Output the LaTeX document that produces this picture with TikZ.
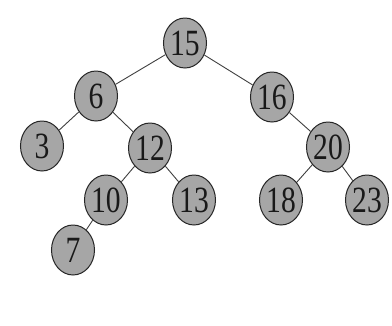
\documentclass[tikz,border=0pt]{standalone}
\usetikzlibrary{shapes.geometric}
\usepackage{fontspec}
\setmainfont{Liberation Serif}
\begin{document}
\begin{tikzpicture}[x=1pt,y=-1pt,
  key/.style={ellipse,draw=black!85,line width=1pt,fill=black!35,
    minimum width=43pt,minimum height=50pt,inner sep=0pt,
    font=\fontsize{37}{37}\selectfont,text=black!90},
  edge/.style={draw=black!75,line width=0.9pt}]
\useasboundingbox[fill=white] (0,0) rectangle (392,325);
\node[key] (n15) at (185,43) {\scalebox{0.8}[1]{15}};
\node[key] (n6) at (96,96) {\scalebox{0.8}[1]{6}};
\node[key] (n16) at (272,97) {\scalebox{0.8}[1]{16}};
\node[key] (n3) at (42,146) {\scalebox{0.8}[1]{3}};
\node[key] (n12) at (150,148) {\scalebox{0.8}[1]{12}};
\node[key] (n20) at (328,147) {\scalebox{0.8}[1]{20}};
\node[key] (n10) at (106,200) {\scalebox{0.8}[1]{10}};
\node[key] (n13) at (194,200) {\scalebox{0.8}[1]{13}};
\node[key] (n18) at (281,200) {\scalebox{0.8}[1]{18}};
\node[key] (n23) at (367,200) {\scalebox{0.8}[1]{23}};
\node[key] (n7) at (73,250) {\scalebox{0.8}[1]{7}};
\draw[edge] (n15) -- (n6);
\draw[edge] (n15) -- (n16);
\draw[edge] (n6) -- (n3);
\draw[edge] (n6) -- (n12);
\draw[edge] (n12) -- (n10);
\draw[edge] (n12) -- (n13);
\draw[edge] (n10) -- (n7);
\draw[edge] (n16) -- (n20);
\draw[edge] (n20) -- (n18);
\draw[edge] (n20) -- (n23);
\end{tikzpicture}
\end{document}
